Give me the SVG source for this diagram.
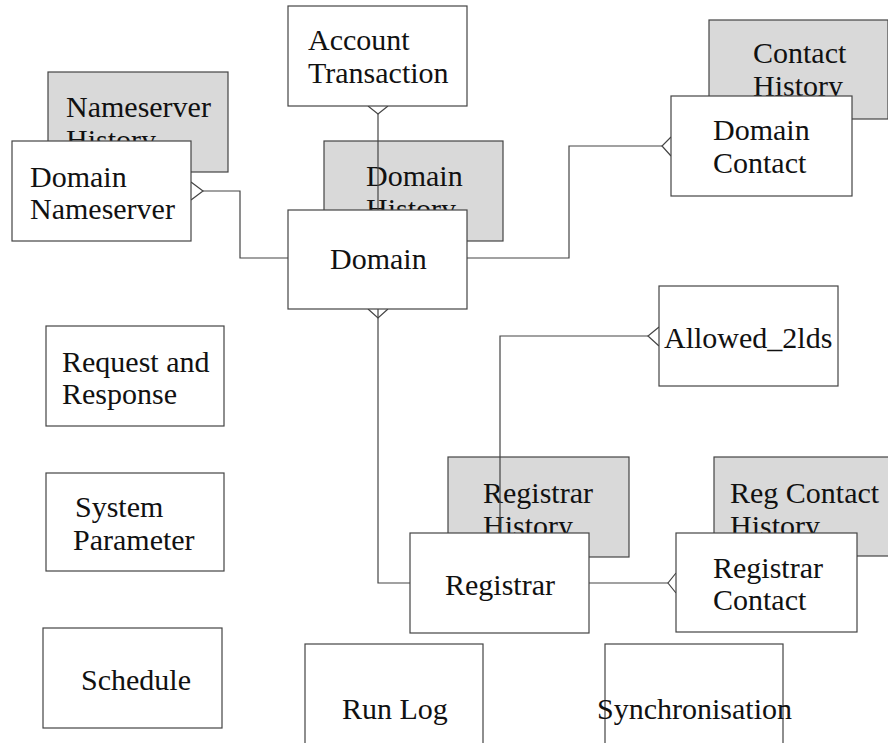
<svg xmlns="http://www.w3.org/2000/svg" width="888" height="743" viewBox="0 0 888 743">
<style>
.box{fill:#ffffff;stroke:#444444;stroke-width:1.2}
.hist{fill:#d9d9d9;stroke:#444444;stroke-width:1.2}
.t{font-family:"Liberation Serif","Times New Roman",serif;font-size:30px;fill:#111111}
.c{fill:none;stroke:#444444;stroke-width:1.2}
</style>
<rect width="888" height="743" fill="#ffffff"/>
<g id="nameserver-history"><rect class="hist" x="48" y="72" width="180" height="100"/><text class="t" x="66" y="117">Nameserver</text><text class="t" x="66" y="150">History</text></g>
<g id="domain-history"><rect class="hist" x="324" y="141" width="179" height="100"/><text class="t" x="366" y="186">Domain</text><text class="t" x="366" y="219">History</text></g>
<g id="contact-history"><rect class="hist" x="709" y="20" width="179" height="99"/><text class="t" x="753" y="63">Contact</text><text class="t" x="753" y="96">History</text></g>
<g id="registrar-history"><rect class="hist" x="448" y="457" width="181" height="100"/><text class="t" x="483" y="503">Registrar</text><text class="t" x="483" y="536">History</text></g>
<g id="reg-contact-history"><rect class="hist" x="714" y="457" width="180" height="99"/><text class="t" x="730" y="503">Reg Contact</text><text class="t" x="730" y="536">History</text></g>
<g id="connectors">
<path class="c" d="M378,114 V210"/><path class="c" d="M368,106 L378,114 L388,106"/>
<path class="c" d="M378,309 V583 H410"/><path class="c" d="M368,309 L378,318 L388,309"/>
<path class="c" d="M203,191 H240 V258 H288"/><path class="c" d="M191,182 L203,191 L191,200"/>
<path class="c" d="M467,258 H569 V146 H662"/><path class="c" d="M671,137 L662,146 L671,156"/>
<path class="c" d="M648,336 H500 V533"/><path class="c" d="M659,327 L648,336 L659,346"/>
<path class="c" d="M589,583 H668"/><path class="c" d="M676,573 L668,583 L676,593"/>
</g>
<g id="account-transaction"><rect class="box" x="288" y="6" width="179" height="100"/><text class="t" x="308" y="50">Account</text><text class="t" x="308" y="83">Transaction</text></g>
<g id="domain-nameserver"><rect class="box" x="12" y="141" width="179" height="100"/><text class="t" x="30" y="187">Domain</text><text class="t" x="30" y="219">Nameserver</text></g>
<g id="domain"><rect class="box" x="288" y="210" width="179" height="99"/><text class="t" x="330" y="269">Domain</text></g>
<g id="domain-contact"><rect class="box" x="671" y="96" width="181" height="100"/><text class="t" x="713" y="140">Domain</text><text class="t" x="713" y="173">Contact</text></g>
<g id="allowed-2lds"><rect class="box" x="659" y="286" width="179" height="100"/><text class="t" x="664" y="348">Allowed_2lds</text></g>
<g id="request-response"><rect class="box" x="46" y="326" width="178" height="100"/><text class="t" x="62" y="372">Request and</text><text class="t" x="62" y="404">Response</text></g>
<g id="system-parameter"><rect class="box" x="46" y="473" width="178" height="98"/><text class="t" x="75" y="517">System</text><text class="t" x="73" y="550">Parameter</text></g>
<g id="schedule"><rect class="box" x="43" y="628" width="179" height="100"/><text class="t" x="81" y="690">Schedule</text></g>
<g id="registrar"><rect class="box" x="410" y="533" width="179" height="100"/><text class="t" x="445" y="595">Registrar</text></g>
<g id="registrar-contact"><rect class="box" x="676" y="533" width="181" height="99"/><text class="t" x="713" y="578">Registrar</text><text class="t" x="713" y="610">Contact</text></g>
<g id="run-log"><rect class="box" x="305" y="644" width="178" height="110"/><text class="t" x="342" y="719">Run Log</text></g>
<g id="synchronisation"><rect class="box" x="605" y="644" width="178" height="110"/><text class="t" x="597" y="719">Synchronisation</text></g>
</svg>
